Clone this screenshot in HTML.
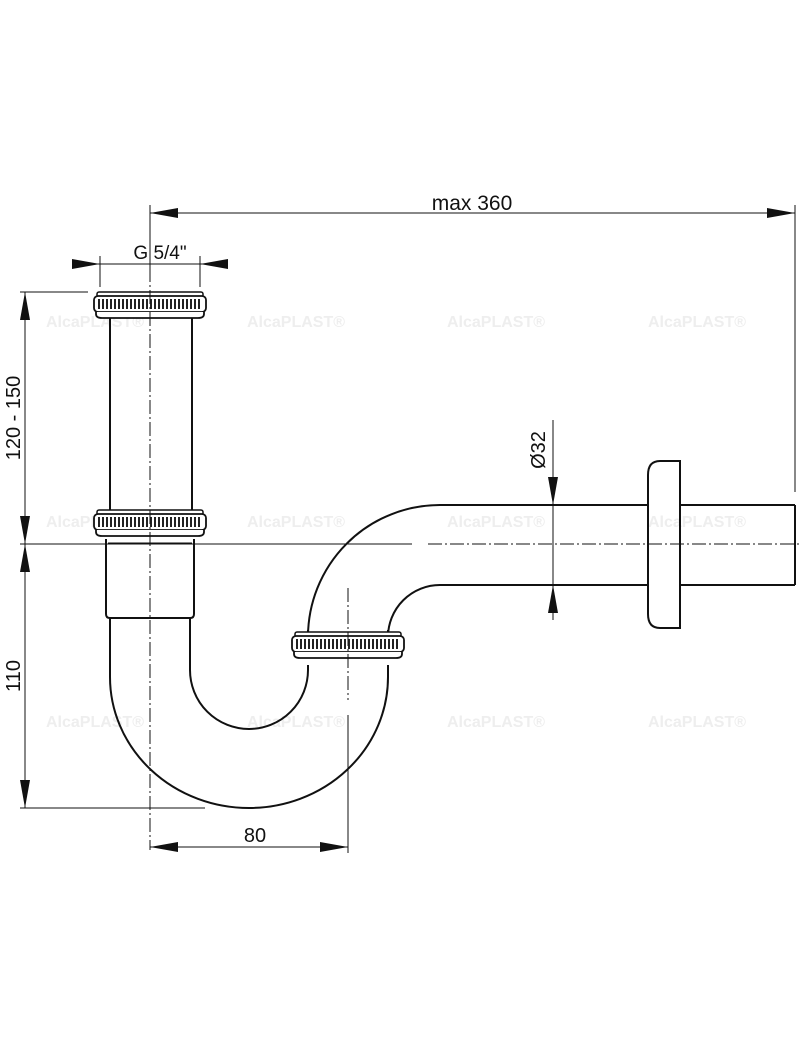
<!DOCTYPE html>
<html><head><meta charset="utf-8"><style>
html,body{margin:0;padding:0;background:#fff;width:800px;height:1047px;overflow:hidden}
svg{display:block}
text{font-family:"Liberation Sans",sans-serif;fill:#111}
text.wm{font-size:16px;font-weight:bold;fill:#eeeeee}
</style></head><body>
<svg width="800" height="1047" viewBox="0 0 800 1047" xmlns="http://www.w3.org/2000/svg">
<defs>
<pattern id="kn" x="0" y="0" width="4" height="10" patternUnits="userSpaceOnUse">
<rect x="0" y="0" width="2" height="10" fill="#222"/>
</pattern>
<g id="nut">
<rect x="-53" y="0" width="106" height="5" rx="2" fill="#fff" stroke="#111" stroke-width="1.5"/>
<rect x="-56" y="4" width="112" height="16" rx="4" fill="#fff" stroke="#111" stroke-width="1.8"/>
<rect x="-52" y="7" width="104" height="10" fill="url(#kn)"/>
<path d="M-54 20 L-54 22 Q-54 26 -48 26 L48 26 Q54 26 54 22 L54 20" fill="#fff" stroke="#111" stroke-width="1.8"/>
</g>
</defs>
<text class="wm" x="46" y="327">AlcaPLAST®</text><text class="wm" x="247" y="327">AlcaPLAST®</text><text class="wm" x="447" y="327">AlcaPLAST®</text><text class="wm" x="648" y="327">AlcaPLAST®</text>
<text class="wm" x="46" y="527">AlcaPLAST®</text><text class="wm" x="247" y="527">AlcaPLAST®</text><text class="wm" x="447" y="527">AlcaPLAST®</text><text class="wm" x="648" y="527">AlcaPLAST®</text>
<text class="wm" x="46" y="727">AlcaPLAST®</text><text class="wm" x="247" y="727">AlcaPLAST®</text><text class="wm" x="447" y="727">AlcaPLAST®</text><text class="wm" x="648" y="727">AlcaPLAST®</text>
<g fill="none" stroke="#111" stroke-width="2">
<line x1="110" y1="317" x2="110" y2="510"/><line x1="192" y1="317" x2="192" y2="510"/>
<path d="M106 539 L106 614 Q106 618 110 618 L190 618 Q194 618 194 614 L194 539"/>
<line x1="108" y1="543" x2="192" y2="543" stroke-width="1"/>
<path d="M110 618 L110 677 A139 131 0 0 0 388 677 L388 665"/>
<path d="M190 618 L190 670 A59 59 0 0 0 308 670 L308 665"/>
<path d="M308 630 L308 637 A132 132 0 0 1 440 505 L648 505"/>
<path d="M388 630 L388 637 A52 52 0 0 1 440 585 L648 585"/>
<line x1="680" y1="505" x2="795" y2="505"/><line x1="680" y1="585" x2="795" y2="585"/>
<line x1="795" y1="505" x2="795" y2="585"/>
<path d="M680 461 L660 461 Q648 461 648 475 L648 614 Q648 628 660 628 L680 628 Z"/>
</g>
<use href="#nut" x="150" y="292"/>
<use href="#nut" x="150" y="510"/>
<use href="#nut" x="348" y="632"/>
<g stroke="#111" stroke-width="1" fill="none">
<line x1="150" y1="268" x2="150" y2="850" stroke-dasharray="14 3 2 3"/>
<line x1="348" y1="588" x2="348" y2="700" stroke-dasharray="14 3 2 3"/>
<line x1="20" y1="544" x2="412" y2="544"/>
<line x1="428" y1="544" x2="800" y2="544" stroke-dasharray="14 3 2 3"/>
<line x1="150" y1="205" x2="150" y2="268"/>
<line x1="150" y1="213" x2="795" y2="213"/>
<line x1="795" y1="205" x2="795" y2="492"/>
<line x1="100" y1="256" x2="100" y2="287"/><line x1="200" y1="256" x2="200" y2="287"/>
<line x1="72" y1="264" x2="228" y2="264"/>
<line x1="20" y1="292" x2="88" y2="292"/>
<line x1="25" y1="292" x2="25" y2="808"/>
<line x1="20" y1="808" x2="205" y2="808"/>
<line x1="553" y1="420" x2="553" y2="620"/>
<line x1="348" y1="715" x2="348" y2="853"/>
<line x1="150" y1="847" x2="348" y2="847"/>
</g>
<g fill="#111">
<path d="M150 213 L178 208 L178 218Z"/><path d="M795 213 L767 208 L767 218Z"/>
<path d="M100 264 L72 259 L72 269Z"/><path d="M200 264 L228 259 L228 269Z"/>
<path d="M25 292 L20 320 L30 320Z"/>
<path d="M25 544 L20 516 L30 516Z"/><path d="M25 544 L20 572 L30 572Z"/>
<path d="M25 808 L20 780 L30 780Z"/>
<path d="M553 505 L548 477 L558 477Z"/><path d="M553 585 L548 613 L558 613Z"/>
<path d="M150 847 L178 842 L178 852Z"/><path d="M348 847 L320 842 L320 852Z"/>
</g>
<text x="472" y="210" font-size="21" text-anchor="middle">max 360</text>
<text x="160" y="259" font-size="19" text-anchor="middle">G 5/4"</text>
<text x="255" y="842" font-size="20" text-anchor="middle">80</text>
<text transform="translate(20,418) rotate(-90)" font-size="20" text-anchor="middle">120 - 150</text>
<text transform="translate(20,676) rotate(-90)" font-size="20" text-anchor="middle">110</text>
<text transform="translate(545,450) rotate(-90)" font-size="20" text-anchor="middle">Ø32</text>
</svg>
</body></html>
